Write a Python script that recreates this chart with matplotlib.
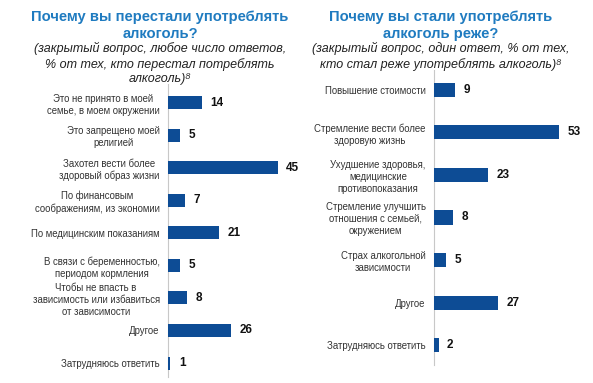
import matplotlib
matplotlib.use('Agg')
import matplotlib.pyplot as plt

FONT = ['Liberation Sans', 'DejaVu Sans']
plt.rcParams['font.family'] = FONT

left_labels = [
    'Это не принято в моей\nсемье, в моем окружении',
    'Это запрещено моей\nрелигией',
    'Захотел вести более\nздоровый образ жизни',
    'По финансовым\nсоображениям, из экономии',
    'По медицинским показаниям',
    'В связи с беременностью,\nпериодом кормления',
    'Чтобы не впасть в\nзависимость или избавиться\nот зависимости',
    'Другое',
    'Затрудняюсь ответить',
]
left_values = [14, 5, 45, 7, 21, 5, 8, 26, 1]

right_labels = [
    'Повышение стоимости',
    'Стремление вести более\nздоровую жизнь',
    'Ухудшение здоровья,\nмедицинские\nпротивопоказания',
    'Стремление улучшить\nотношения с семьей,\nокружением',
    'Страх алкогольной\nзависимости',
    'Другое',
    'Затрудняюсь ответить',
]
right_values = [9, 53, 23, 8, 5, 27, 2]

left_title = 'Почему вы перестали употреблять\nалкоголь?'
left_sub = ('(закрытый вопрос, любое число ответов,\n'
            '% от тех, кто перестал потреблять\nалкоголь)\u2078')
right_title = 'Почему вы стали употреблять\nалкоголь реже?'
right_sub = ('(закрытый вопрос, один ответ, % от тех,\n'
             'кто стал реже употреблять алкоголь)\u2078')

W, H = 593, 383
BAR = '#0d4c95'
TITLE = '#1f7bc0'
TEXT = '#333333'

fig = plt.figure(figsize=(W / 100, H / 100), dpi=100)


def px_axes(x0, y0, x1, y1):
    # pixel box (top-left origin) -> figure fraction
    return fig.add_axes([x0 / W, 1 - y1 / H, (x1 - x0) / W, (y1 - y0) / H])


def draw_panel(ax, labels, values, top, bottom, height):
    y = list(range(len(values)))
    ax.barh(y, values, height=height, color=BAR, zorder=3)
    ax.set_xlim(0, 55)
    ax.set_ylim(bottom, top)
    ax.set_yticks(y)
    ax.set_yticklabels(labels, fontsize=6.9, color=TEXT,
                       multialignment='center', linespacing=1.25)
    ax.tick_params(axis='y', length=0, pad=6)
    ax.set_xticks([])
    for side in ('top', 'right', 'bottom'):
        ax.spines[side].set_visible(False)
    ax.spines['left'].set_color('#c8c8c8')
    ax.spines['left'].set_linewidth(0.8)
    ax.spines['left'].set_zorder(1)
    for yi, v in zip(y, values):
        ax.annotate(str(v), (v, yi), xytext=(6, 0), textcoords='offset points',
                    va='center', ha='left', fontsize=8.5, fontweight='bold',
                    color='#111111')


ax_l = px_axes(168, 84, 302, 377)
draw_panel(ax_l, left_labels, left_values, -0.58, 8.43, 0.4)

ax_r = px_axes(434, 70, 564, 365)
draw_panel(ax_r, right_labels, right_values, -0.47, 6.47, 0.33)

fig.text(160 / W, 1 - 10 / H, left_title, ha='center', va='top', fontsize=10.6,
         fontweight='bold', color=TITLE, linespacing=1.25)
fig.text(160 / W, 1 - 42 / H, left_sub, ha='center', va='top', fontsize=9,
         style='italic', color='#222222', linespacing=1.25)
fig.text(441 / W, 1 - 10 / H, right_title, ha='center', va='top', fontsize=10.6,
         fontweight='bold', color=TITLE, linespacing=1.25)
fig.text(441 / W, 1 - 42 / H, right_sub, ha='center', va='top', fontsize=9,
         style='italic', color='#222222', linespacing=1.25)

fig.savefig('out.png', dpi=100, facecolor='white')
